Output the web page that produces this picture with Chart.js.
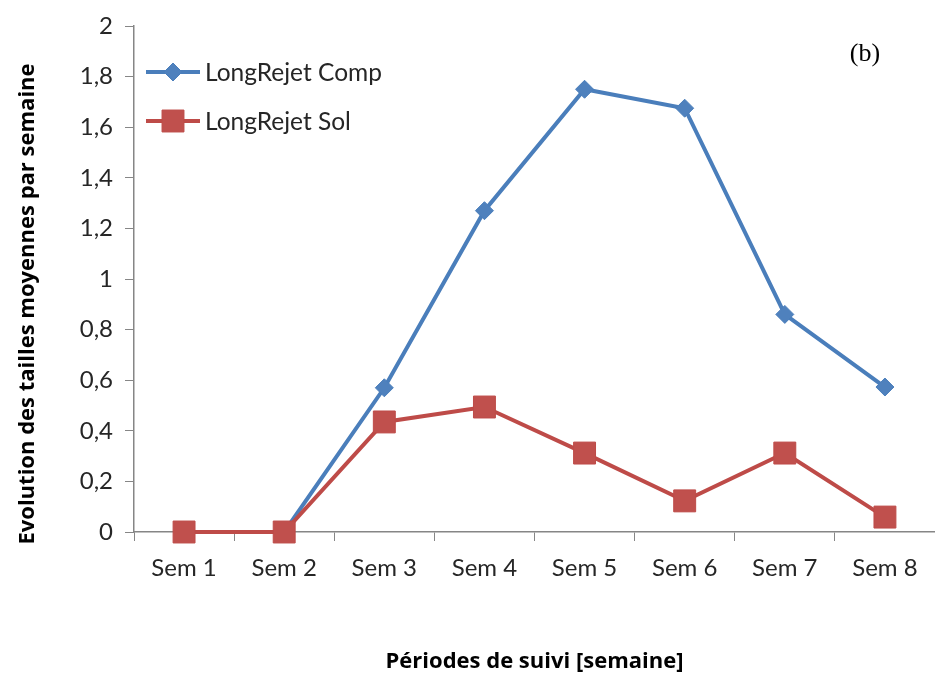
<!DOCTYPE html>
<html>
<head>
<meta charset="utf-8">
<script src="https://cdn.jsdelivr.net/npm/chart.js@4"></script>
<style>
html,body{margin:0;padding:0;background:#fff;}
#wrap{width:935px;height:675px;position:relative;}
</style>
</head>
<body>
<div id="wrap"><canvas id="c" width="935" height="675"></canvas></div>
<script>
const categories = ["Sem 1","Sem 2","Sem 3","Sem 4","Sem 5","Sem 6","Sem 7","Sem 8"];
const compValues = [0, 0, 0.57, 1.27, 1.75, 1.675, 0.86, 0.573];
const solValues  = [0, 0, 0.435, 0.494, 0.312, 0.123, 0.312, 0.059];
const seriesNames = ["LongRejet Comp", "LongRejet Sol"];
const yTicks = [0,0.2,0.4,0.6,0.8,1,1.2,1.4,1.6,1.8,2];
const xTitle = "Périodes de suivi [semaine]";
const yTitle = "Evolution des tailles moyennes par semaine";
const panelLabel = "(b)";

const FONT = "Lato";
const TITLE_FONT = "'Open Sans'";
const AXIS = "#868686";
const TXT = "#262626";

const legendPlugin = {
  id: 'customLegend',
  afterDraw(chart) {
    const ctx = chart.ctx;
    const ys = [72, 121];
    ctx.save();
    [0, 1].forEach((dsIdx, i) => {
      const ds = chart.data.datasets[dsIdx];
      const y = ys[i];
      ctx.strokeStyle = ds.borderColor;
      ctx.lineWidth = ds.borderWidth;
      ctx.beginPath();
      ctx.moveTo(146, y);
      ctx.lineTo(200, y);
      ctx.stroke();
      ctx.fillStyle = ds.pointBackgroundColor;
      ctx.strokeStyle = ds.pointBorderColor;
      ctx.lineWidth = 1;
      Chart.helpers.drawPoint(ctx, {pointStyle: ds.pointStyle, rotation: 0, borderWidth: 1, radius: ds.pointRadius}, 173, y);
      ctx.fillStyle = TXT;
      ctx.font = "24.5px " + FONT;
      ctx.textBaseline = "middle";
      ctx.textAlign = "left";
      ctx.fillText(ds.label, 205, y + 1);
    });
    ctx.font = "26px 'Liberation Serif'";
    ctx.fillStyle = "#000";
    ctx.textAlign = "center";
    ctx.textBaseline = "middle";
    ctx.fillText(panelLabel, 865, 54);
    ctx.translate(28, 304);
    ctx.rotate(-Math.PI / 2);
    ctx.font = "bold 22px " + TITLE_FONT;
    ctx.fillText(yTitle, 0, 0);
    ctx.restore();
  }
};

new Chart(document.getElementById('c'), {
  type: 'line',
  data: {
    labels: categories,
    datasets: [
      {
        label: seriesNames[0], data: compValues, order: 1, clip: false,
        borderColor: '#4A7EBB', borderWidth: 4,
        pointStyle: 'rectRot', pointRadius: 9, pointHoverRadius: 9,
        pointBackgroundColor: '#4F81BD', pointBorderColor: '#4A7EBB', pointBorderWidth: 1,
        tension: 0, fill: false
      },
      {
        label: seriesNames[1], data: solValues, order: 0, clip: false,
        borderColor: '#BE4B48', borderWidth: 4,
        pointStyle: 'rect', pointRadius: 15.5, pointHoverRadius: 15.5,
        pointBackgroundColor: '#C0504D', pointBorderColor: '#BE4B48', pointBorderWidth: 1,
        tension: 0, fill: false
      }
    ]
  },
  options: {
    responsive: false,
    animation: false,
    events: [],
    layout: { autoPadding: false, padding: { left: 12, top: 26, right: -3, bottom: 0 } },
    plugins: { legend: { display: false }, tooltip: { enabled: false } },
    scales: {
      x: {
        offset: true,
        grid: { display: true, drawOnChartArea: false, drawTicks: true, tickLength: 9, color: AXIS, lineWidth: 1, offset: true },
        border: { display: true, color: AXIS, width: 1.5 },
        ticks: { color: TXT, font: { family: FONT, size: 24 }, padding: 13, maxRotation: 0 },
        title: { display: true, text: xTitle, color: '#000', font: { family: "Open Sans", size: 22, weight: 'bold' }, padding: { top: 0, bottom: 0 } },
        afterFit(scale) { scale.height = 143; scale.paddingLeft = 0; scale.paddingRight = 0; }
      },
      y: {
        min: 0, max: 2,
        afterBuildTicks(scale) { scale.ticks = yTicks.map(v => ({ value: v })); },
        grid: { display: true, drawOnChartArea: false, drawTicks: true, tickLength: 9, color: AXIS, lineWidth: 1 },
        border: { display: true, color: AXIS, width: 1.5 },
        ticks: {
          color: TXT, font: { family: FONT, size: 24 }, padding: 12,
          callback: (v) => String(Math.round(v * 10) / 10).replace('.', ',')
        },
        title: { display: false },
        afterFit(scale) { scale.width = 122; scale.paddingTop = 0; scale.paddingBottom = 0; }
      }
    }
  },
  plugins: [legendPlugin]
});
</script>
</body>
</html>
